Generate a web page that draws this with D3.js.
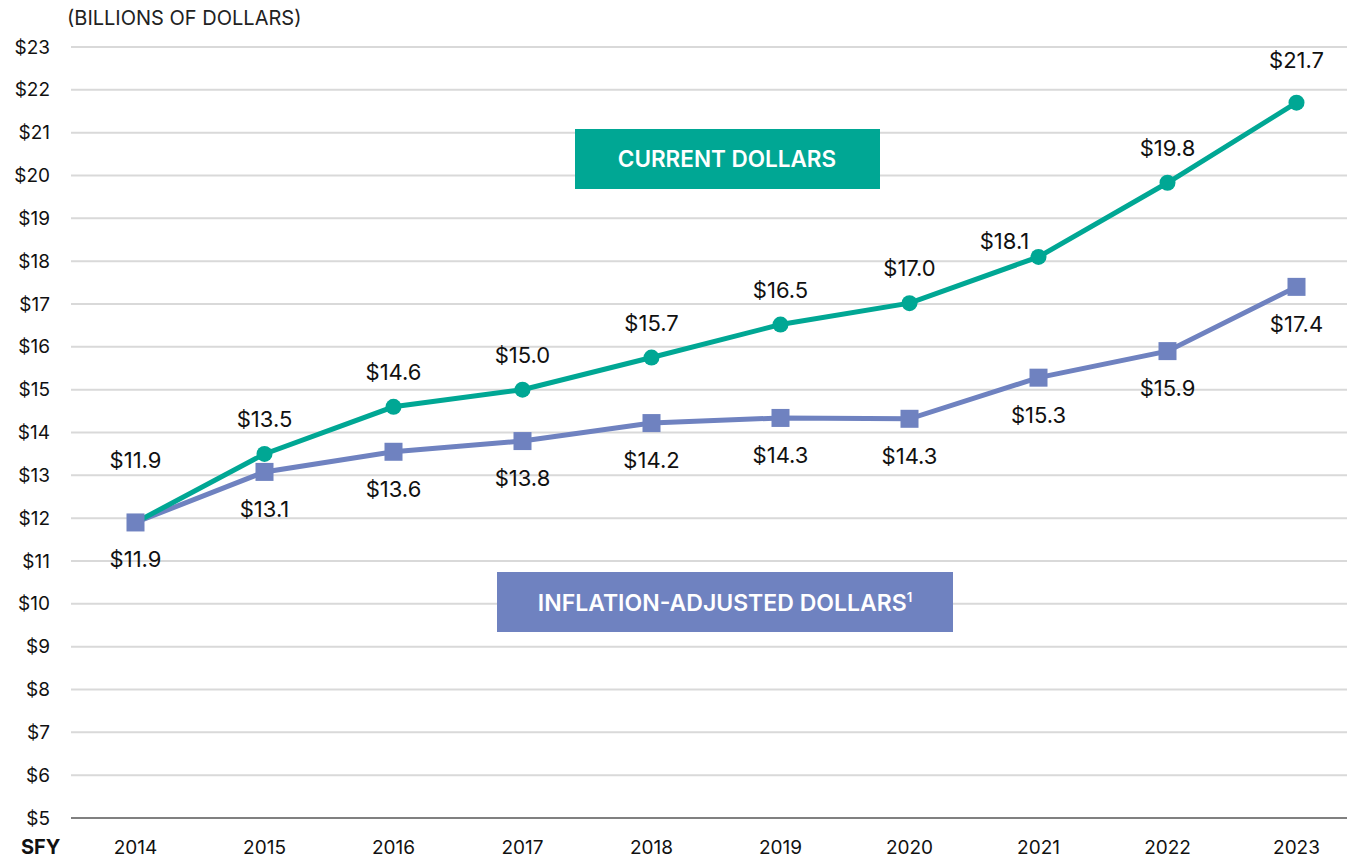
<!DOCTYPE html>
<html>
<head>
<meta charset="utf-8">
<script src="https://cdn.jsdelivr.net/npm/d3@7"></script>
<style>
  body { margin: 0; background: #fff; }
  svg { display: block; font-family: Inter, "Open Sans", sans-serif; }
</style>
</head>
<body>
<script>
const years = ["2014", "2015", "2016", "2017", "2018", "2019", "2020", "2021", "2022", "2023"];
const currentDollars = [11.9, 13.5, 14.6, 15.0, 15.75, 16.52, 17.02, 18.1, 19.83, 21.7];
const currentLabels = ["$11.9", "$13.5", "$14.6", "$15.0", "$15.7", "$16.5", "$17.0", "$18.1", "$19.8", "$21.7"];
const adjustedDollars = [11.9, 13.08, 13.55, 13.8, 14.22, 14.34, 14.32, 15.28, 15.9, 17.4];
const adjustedLabels = ["$11.9", "$13.1", "$13.6", "$13.8", "$14.2", "$14.3", "$14.3", "$15.3", "$15.9", "$17.4"];
const yTicks = d3.range(5, 24);

const width = 1347;
const height = 859;
const teal = "#00a794";
const blue = "#6f82c0";

const svg = d3.select("body")
  .append("svg")
  .attr("width", width)
  .attr("height", height);

const x = d3.scaleBand()
  .domain(years)
  .range([71, 1361]);

const y = d3.scaleLinear()
  .domain([5, 23])
  .range([818, 47]);

const cx = d => x(d) + x.bandwidth() / 2;

// gridlines
svg.append("g")
  .selectAll("line")
  .data(yTicks.filter(t => t !== 5))
  .join("line")
  .attr("x1", 71)
  .attr("x2", width)
  .attr("y1", d => y(d))
  .attr("y2", d => y(d))
  .attr("stroke", "#d9d9d9")
  .attr("stroke-width", 2);

// y axis labels
const yAxis = svg.append("g")
  .attr("transform", "translate(50,0)")
  .call(d3.axisLeft(y).tickValues(yTicks).tickFormat(d => "$" + d).tickSize(0).tickPadding(0));
yAxis.select(".domain").remove();
yAxis.selectAll("text")
  .attr("font-family", "Inter, sans-serif")
  .attr("font-size", 19)
  .attr("fill", "#111");

// baseline
svg.append("line")
  .attr("x1", 71)
  .attr("x2", width)
  .attr("y1", y(5))
  .attr("y2", y(5))
  .attr("stroke", "#808080")
  .attr("stroke-width", 2);

// x axis labels
const xAxis = svg.append("g")
  .attr("transform", "translate(0,840)")
  .call(d3.axisBottom(x).tickSize(0).tickPadding(0));
xAxis.select(".domain").remove();
xAxis.selectAll("text")
  .attr("font-family", "Inter, sans-serif")
  .attr("font-size", 19)
  .attr("fill", "#111");

svg.append("text")
  .attr("x", 21)
  .attr("y", 854)
  .attr("font-size", 20)
  .attr("font-weight", 700)
  .attr("fill", "#111")
  .text("SFY");

svg.append("text")
  .attr("x", 67)
  .attr("y", 25)
  .attr("font-size", 20)
  .attr("fill", "#222")
  .text("(BILLIONS OF DOLLARS)");

// lines
const line = d3.line()
  .x((d, i) => cx(years[i]))
  .y(d => y(d));

svg.append("path")
  .datum(adjustedDollars)
  .attr("d", line)
  .attr("fill", "none")
  .attr("stroke", blue)
  .attr("stroke-width", 5);

svg.append("path")
  .datum(currentDollars)
  .attr("d", line)
  .attr("fill", "none")
  .attr("stroke", teal)
  .attr("stroke-width", 5);

svg.append("g")
  .selectAll("circle")
  .data(currentDollars)
  .join("circle")
  .attr("cx", (d, i) => cx(years[i]))
  .attr("cy", d => y(d))
  .attr("r", 8)
  .attr("fill", teal);

svg.append("g")
  .selectAll("rect")
  .data(adjustedDollars)
  .join("rect")
  .attr("x", (d, i) => cx(years[i]) - 9)
  .attr("y", d => y(d) - 9)
  .attr("width", 18)
  .attr("height", 18)
  .attr("fill", blue);

// data labels
svg.append("g")
  .selectAll("text")
  .data(currentDollars)
  .join("text")
  .attr("x", (d, i) => cx(years[i]) + (i === 7 ? -34 : 0))
  .attr("y", (d, i) => y(d) - (i === 0 ? 62 : i === 7 ? 16 : i === 9 ? 43 : 35) + 8)
  .attr("text-anchor", "middle")
  .attr("font-size", 22)
  .attr("fill", "#111")
  .text((d, i) => currentLabels[i]);

svg.append("g")
  .selectAll("text")
  .data(adjustedDollars)
  .join("text")
  .attr("x", (d, i) => cx(years[i]))
  .attr("y", d => y(d) + 37 + 8)
  .attr("text-anchor", "middle")
  .attr("font-size", 22)
  .attr("fill", "#111")
  .text((d, i) => adjustedLabels[i]);

// series boxes
svg.append("rect")
  .attr("x", 575).attr("y", 129).attr("width", 305).attr("height", 60)
  .attr("fill", teal);
svg.append("text")
  .attr("x", 727).attr("y", 167)
  .attr("text-anchor", "middle")
  .attr("font-size", 22.5)
  .attr("font-weight", 600)
  .attr("fill", "#fff")
  .text("CURRENT DOLLARS");

svg.append("rect")
  .attr("x", 497).attr("y", 572).attr("width", 456).attr("height", 60)
  .attr("fill", blue);
const t = svg.append("text")
  .attr("x", 725).attr("y", 611)
  .attr("text-anchor", "middle")
  .attr("font-size", 23)
  .attr("font-weight", 600)
  .attr("fill", "#fff");
t.append("tspan").text("INFLATION-ADJUSTED DOLLARS");
t.append("tspan").attr("font-size", 13).attr("dy", -9).text("1");
</script>
</body>
</html>
